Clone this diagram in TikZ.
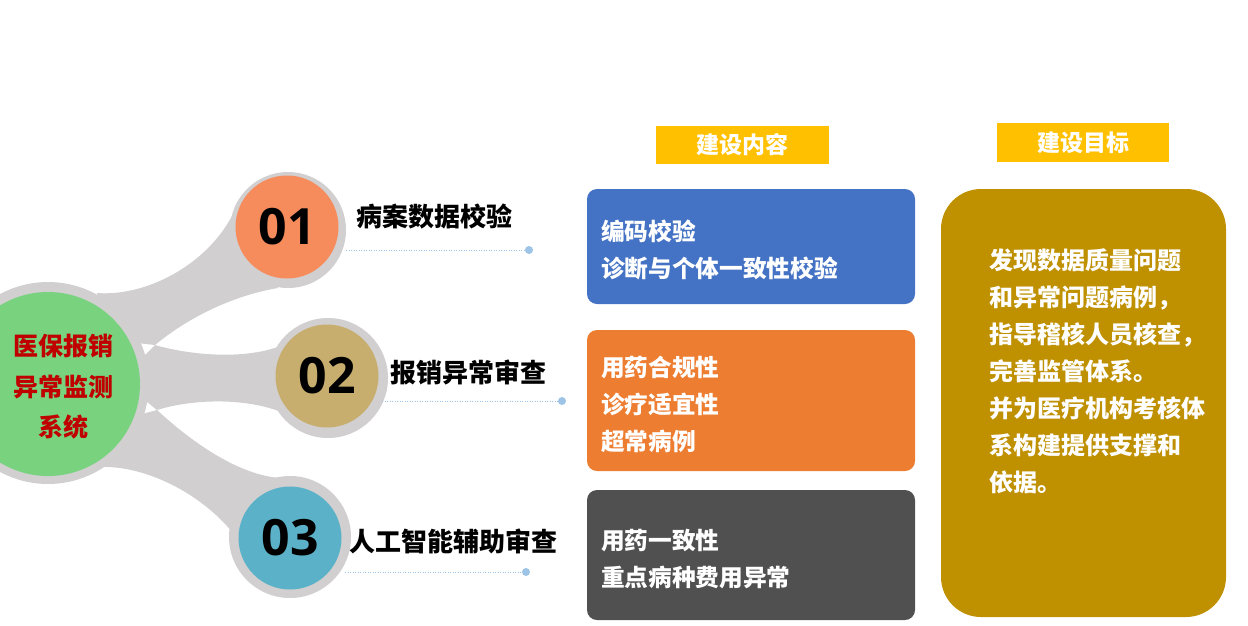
\documentclass[tikz,border=0pt]{standalone}
\usepackage{fontspec}
\setmainfont{Noto Sans CJK SC}
\newfontfamily\numfont{Open Sans}
\usetikzlibrary{positioning, calc}

\definecolor{ringgray}{HTML}{D1CFD0}
\definecolor{hubgreen}{HTML}{78D27E}
\definecolor{hubred}{HTML}{C00000}
\definecolor{numorange}{HTML}{F68B5B}
\definecolor{numtan}{HTML}{C8AE6E}
\definecolor{numblue}{HTML}{5BB2C8}
\definecolor{leadblue}{HTML}{9DC3E6}
\definecolor{headyellow}{HTML}{FFC000}
\definecolor{boxblue}{HTML}{4472C4}
\definecolor{boxorange}{HTML}{ED7D31}
\definecolor{boxdark}{HTML}{505050}
\definecolor{boxgold}{HTML}{BF9000}

\begin{document}
\begin{tikzpicture}[
    x=1pt, y=-1pt,
    hub/.style={circle, fill=hubgreen, minimum size=184pt, inner sep=0pt},
    hubtext/.style={text=hubred, align=center, inner sep=0pt, font=\bfseries\fontsize{25}{40.5}\selectfont},
    num/.style={circle, minimum size=103pt, inner sep=0pt, font=\numfont\bfseries\fontsize{50}{50}\selectfont},
    ringc/.style={circle, fill=ringgray, inner sep=0pt},
    topic/.style={anchor=west, inner sep=0pt, font=\bfseries\fontsize{26}{26}\selectfont},
    lead/.style={leadblue, line width=1pt, dash pattern=on 1pt off 1.5pt},
    tip/.style={circle, fill=leadblue, minimum size=8pt, inner sep=0pt},
    head/.style={fill=headyellow, text=white, minimum width=173pt, minimum height=38pt, font=\bfseries\fontsize{23}{23}\selectfont},
    cbox/.style={rounded corners=10pt, text=white, minimum width=328pt, text width=300pt, inner xsep=14pt, align=left,
        font=\bfseries\fontsize{23.7}{37}\selectfont, execute at begin node={\rule{0pt}{28pt}}},
    goal/.style={rounded corners=40pt, fill=boxgold, minimum width=285pt, minimum height=428pt},
    goaltext/.style={text=white, align=left, inner sep=0pt, font=\bfseries\fontsize{24}{37}\selectfont},
]
\useasboundingbox (0,0) rectangle (1248,625);
\clip (0,0) rectangle (1248,625);

% ── Gray backdrop: rings and branches ──
\node[ringc, minimum size=202pt] (r0) at (48,383) {};
\node[ringc, minimum size=116pt] (r1) at (288,230) {};
\node[ringc, minimum size=120pt] (r2) at (328,378) {};
\node[ringc, minimum size=122pt] (r3) at (290,537) {};

\fill[ringgray] (97,293) .. controls (150,297) and (215,260) .. (237,205)
    -- (278,288) .. controls (230,296) and (185,320) .. (155,345) -- (110,340) -- cycle;
\fill[ringgray] (155,345) .. controls (200,358) and (265,360) .. (295,338)
    -- (305,425) .. controls (265,395) and (195,398) .. (157,410) -- (120,380) -- cycle;
\fill[ringgray] (157,410) .. controls (195,445) and (240,475) .. (280,478)
    -- (245,550) .. controls (215,500) and (150,465) .. (100,467) -- (120,420) -- cycle;

% ── Hub and numbered circles ──
\node[hub] (sys) at (48,384) {};
\node[hubtext] (systxt) at (63,387) {医保报销\\异常监测\\系统};
\node[num, fill=numorange] (n1) at (287,227) {01};
\node[num, fill=numtan] (n2) at (327,376) {02};
\node[num, fill=numblue] (n3) at (290,538) {03};

% ── Topic labels ──
\node[topic] (t1) at (356,217) {病案数据校验};
\node[topic] (t2) at (390,372) {报销异常审查};
\node[topic] (t3) at (349,541) {人工智能辅助审查};

% ── Dotted leaders ──
\node[tip] (d1) at (529,250) {};
\node[tip] (d2) at (562,401) {};
\node[tip] (d3) at (526,572) {};
\draw[lead] (d1 -| r1.east) -- (d1);
\draw[lead] ($(d2 -| r2.east)+(-6,0)$) -- (d2);
\draw[lead] ($(d3 -| r3.east)+(-6,0)$) -- (d3);

% ── Headers ──
\node[head] (hcont) at (742.5,145) {建设内容};
\node[head, minimum width=172pt, minimum height=39pt] (hgoal) at (1083,142.5) {建设目标};

% ── Content boxes ──
\node[cbox, fill=boxblue, minimum height=115pt] (b1) at (751,246.5) {编码校验\\诊断与个体一致性校验};
\node[cbox, fill=boxorange, minimum height=141pt] (b2) at (751,400.5) {用药合规性\\诊疗适宜性\\超常病例};
\node[cbox, fill=boxdark, minimum height=130pt] (b3) at (751,555) {用药一致性\\重点病种费用异常};

% ── Goal box ──
\node[goal] (g) at (1083.5,403) {};
\node[goaltext, anchor=north west] (gt) at (989,248) {发现数据质量问题\\和异常问题病例，\\指导稽核人员核查，\\完善监管体系。\\并为医疗机构考核体\\系构建提供支撑和\\依据。};

\end{tikzpicture}
\end{document}
